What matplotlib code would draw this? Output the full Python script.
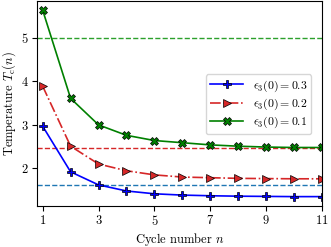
import matplotlib
matplotlib.use("Agg")
import matplotlib.pyplot as plt

plt.rcParams['font.family'] = 'serif'
plt.rcParams['font.serif'] = ['cmr10']
plt.rcParams['mathtext.fontset'] = 'cm'
plt.rcParams['axes.formatter.use_mathtext'] = True
plt.rcParams['font.size'] = 9

# cycle numbers
n = [1, 2, 3, 4, 5, 6, 7, 8, 9, 10, 11]

# T_c(n) for each initial eps_3(0)
tc_03 = [2.97, 1.92, 1.62, 1.48, 1.415, 1.385, 1.37, 1.36, 1.355, 1.35, 1.35]
tc_02 = [3.89, 2.51, 2.10, 1.945, 1.85, 1.80, 1.785, 1.77, 1.765, 1.76, 1.76]
tc_01 = [5.64, 3.61, 3.00, 2.76, 2.64, 2.59, 2.54, 2.51, 2.49, 2.48, 2.48]

# asymptotic levels (dashed)
lim_03 = 1.615
lim_02 = 2.47
lim_01 = 5.0

labels = [r'$\epsilon_3(0) = 0.3$', r'$\epsilon_3(0) = 0.2$', r'$\epsilon_3(0) = 0.1$']

fig = plt.figure(figsize=(3.31, 2.47), dpi=100)
ax = fig.add_axes([0.112, 0.167, 0.861, 0.829])

ax.axhline(lim_03, color='tab:blue', ls='--', lw=1.0)
ax.axhline(lim_02, color='tab:red', ls='--', lw=1.0)
ax.axhline(lim_01, color='tab:green', ls='--', lw=1.0)

ax.plot(n, tc_03, color='blue', ls='-', marker='P', ms=6, mec='black', mew=0.5, lw=1.2, label=labels[0])
ax.plot(n, tc_02, color='tab:red', ls='-.', marker='>', ms=6, mec='black', mew=0.5, lw=1.2, label=labels[1])
ax.plot(n, tc_01, color='green', ls='-', marker='X', ms=6, mec='black', mew=0.5, lw=1.2, label=labels[2])

ax.set_xlim(0.8, 11)
ax.set_ylim(1.14, 5.85)
ax.set_xticks([1, 3, 5, 7, 9, 11])
ax.set_yticks([2, 3, 4, 5])
ax.tick_params(pad=2.5)
ax.set_xlabel(r'Cycle number $n$', labelpad=2)
ax.set_ylabel(r'Temperature $T_\mathrm{c}(n)$', labelpad=2)

ax.legend(loc='upper right', bbox_to_anchor=(0.975, 0.66), fontsize=8.5,
          handlelength=2.8, borderaxespad=0.3, labelspacing=0.25,
          borderpad=0.35, markerscale=0.85)

fig.savefig('out.png', dpi=100)
